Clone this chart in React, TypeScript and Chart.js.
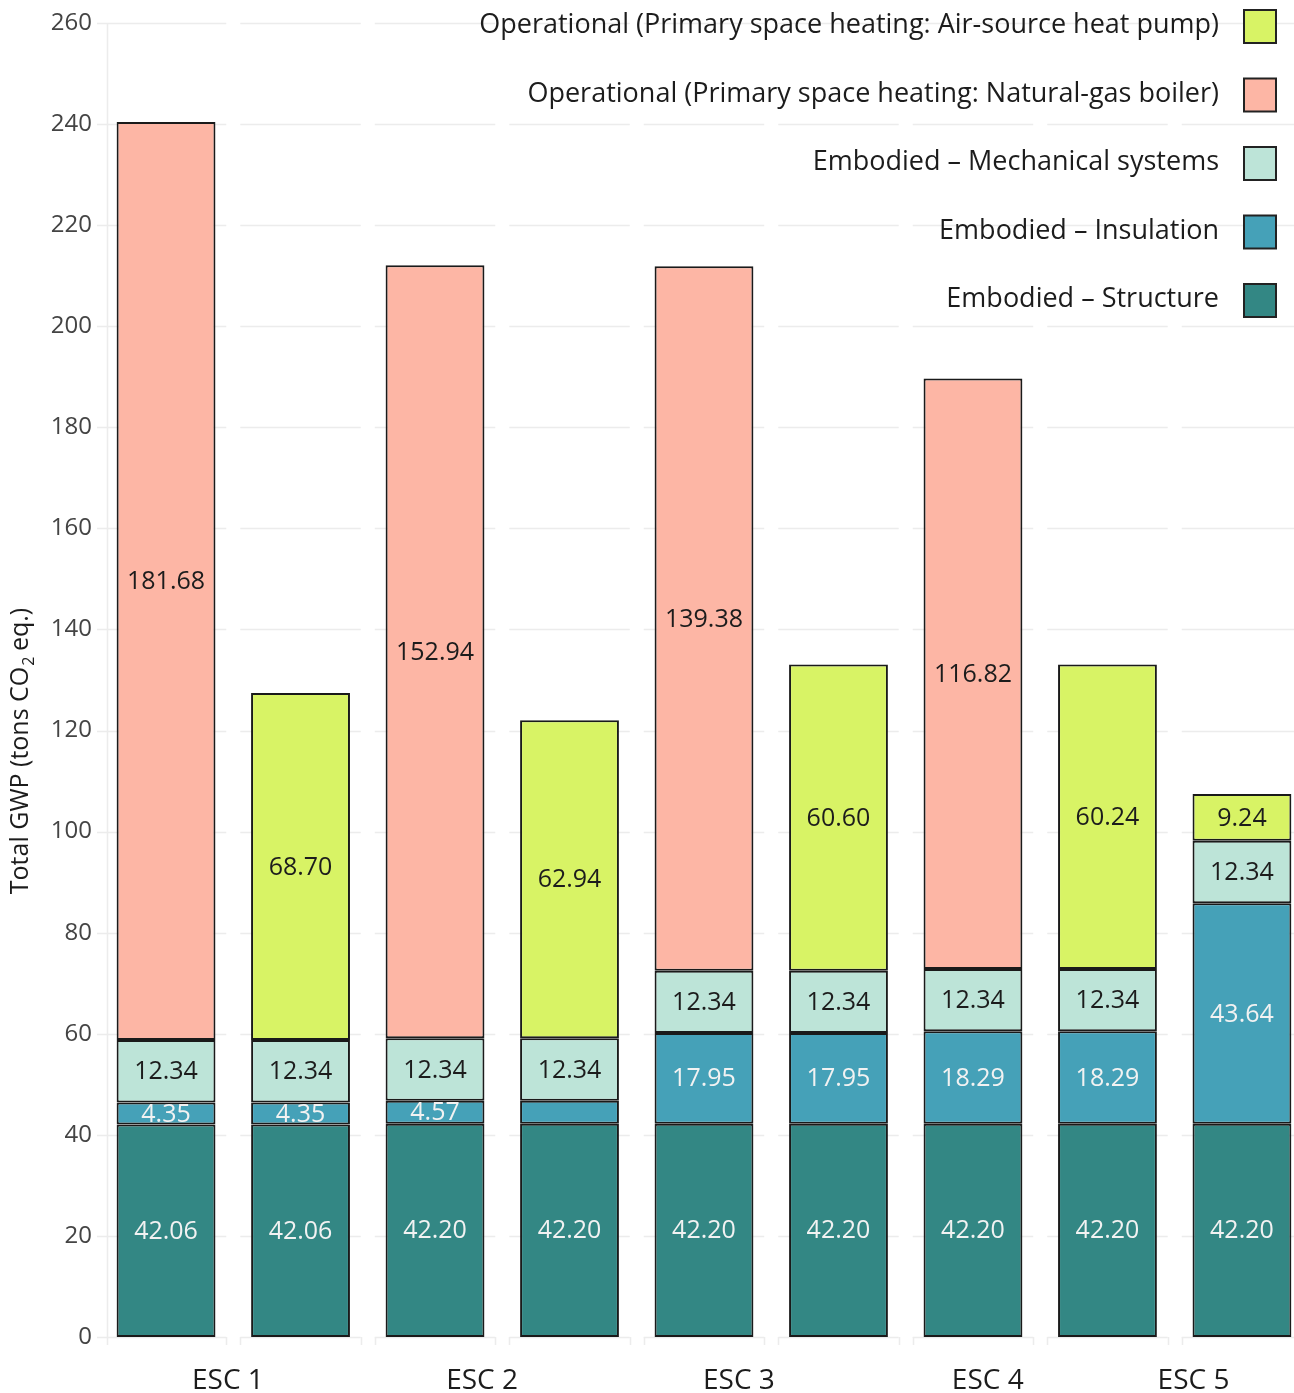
import React, { useEffect, useRef } from "react";
import { Chart, registerables } from "chart.js";

Chart.register(...registerables);

// Nine stacked bars: each scenario shown with gas boiler and with heat pump (ESC 5 heat pump only)
const BAR_POSITIONS = [1, 2, 3, 4, 5, 6, 7, 8, 9];
const SCENARIO_LABELS = ["ESC 1", "ESC 2", "ESC 3", "ESC 4", "ESC 5"];
const SCENARIO_TICKS = [1.46, 3.35, 5.26, 7.11, 8.64];

const structure = [42.06, 42.06, 42.2, 42.2, 42.2, 42.2, 42.2, 42.2, 42.2];
const insulation = [4.35, 4.35, 4.57, 4.57, 17.95, 17.95, 18.29, 18.29, 43.64];
const mechanical = [12.34, 12.34, 12.34, 12.34, 12.34, 12.34, 12.34, 12.34, 12.34];
const gasBoiler = [181.68, null, 152.94, null, 139.38, null, 116.82, null, null];
const heatPump = [null, 68.7, null, 62.94, null, 60.6, null, 60.24, 9.24];
const insulationLabelShown = [true, true, true, false, true, true, true, true, true];

const SERIES_NAMES = [
  "Embodied \u2013 Structure",
  "Embodied \u2013 Insulation",
  "Embodied \u2013 Mechanical systems",
  "Operational (Primary space heating: Natural-gas boiler)",
  "Operational (Primary space heating: Air-source heat pump)",
];
const SERIES_COLORS = ["#338784", "#45a1b8", "#bde4d8", "#fdb6a5", "#d8f365"];
const LABEL_COLORS = ["#f2f2f2", "#f2f2f2", "#1c1c1c", "#1c1c1c", "#1c1c1c"];

const Y_MIN = 0;
const Y_MAX = 260;
const Y_STEP = 20;

const FONT = '"Open Sans", "Noto Sans", sans-serif';

const toPoints = (values: (number | null)[]) =>
  values.map((v, i) => ({ x: BAR_POSITIONS[i], y: v }));

// Light horizontal grid broken between neighbouring bars, plus the faint axis line
const segmentedGrid = {
  id: "segmentedGrid",
  beforeDatasetsDraw(chart: any) {
    const { ctx, chartArea, scales } = chart;
    const x = scales.x;
    const y = scales.y;
    const gapHalf = 7;
    const gaps: number[] = [];
    for (let i = 1; i < BAR_POSITIONS.length; i++) {
      gaps.push(x.getPixelForValue((BAR_POSITIONS[i - 1] + BAR_POSITIONS[i]) / 2));
    }
    const starts = [chartArea.left - 10, ...gaps.map((g) => g + gapHalf)];
    const ends = [...gaps.map((g) => g - gapHalf), chartArea.right];
    ctx.save();
    ctx.strokeStyle = "#ececec";
    ctx.lineWidth = 1.5;
    y.ticks.forEach((t: any) => {
      const py = Math.round(y.getPixelForValue(t.value)) + 0.5;
      ctx.beginPath();
      starts.forEach((s, k) => {
        ctx.moveTo(s, py);
        ctx.lineTo(ends[k], py);
      });
      ctx.stroke();
    });
    ctx.beginPath();
    ctx.moveTo(chartArea.left + 0.5, chartArea.top);
    ctx.lineTo(chartArea.left + 0.5, chartArea.bottom + 8);
    const marks = [...gaps.map((g) => g - gapHalf), ...gaps.map((g) => g + gapHalf)];
    marks.forEach((m) => {
      ctx.moveTo(Math.round(m) + 0.5, chartArea.bottom);
      ctx.lineTo(Math.round(m) + 0.5, chartArea.bottom + 8);
    });
    ctx.stroke();
    ctx.restore();
  },
};

// Value written in the middle of every stacked segment
const segmentLabels = {
  id: "segmentLabels",
  afterDatasetsDraw(chart: any) {
    const { ctx } = chart;
    ctx.save();
    ctx.font = `25px ${FONT}`;
    ctx.textAlign = "center";
    ctx.textBaseline = "middle";
    chart.data.datasets.forEach((ds: any, di: number) => {
      const meta = chart.getDatasetMeta(di);
      meta.data.forEach((bar: any, i: number) => {
        const v = ds.data[i].y;
        if (v == null) return;
        if (di === 1 && !insulationLabelShown[i]) return;
        const p = bar.getProps(["x", "y", "base"], true);
        ctx.fillStyle = LABEL_COLORS[di];
        ctx.fillText(v.toFixed(2), p.x, (p.y + p.base) / 2 + 1);
      });
    });
    ctx.restore();
  },
};

// Rotated axis title with a subscript 2
const yTitle = {
  id: "yTitle",
  afterDraw(chart: any) {
    const { ctx } = chart;
    const main = `25px ${FONT}`;
    const sub = `16px ${FONT}`;
    const a = "Total GWP (tons CO";
    const b = "2";
    const c = " eq.)";
    ctx.save();
    ctx.fillStyle = "#1c1c1c";
    ctx.textBaseline = "middle";
    ctx.textAlign = "left";
    ctx.font = main;
    const wa = ctx.measureText(a).width;
    const wc = ctx.measureText(c).width;
    ctx.font = sub;
    const wb = ctx.measureText(b).width;
    const total = wa + wb + wc;
    ctx.translate(21, 751);
    ctx.rotate(-Math.PI / 2);
    let cx = -total / 2;
    ctx.font = main;
    ctx.fillText(a, cx, 0);
    cx += wa;
    ctx.font = sub;
    ctx.fillText(b, cx + 1, 8);
    cx += wb;
    ctx.font = main;
    ctx.fillText(c, cx, 0);
    ctx.restore();
  },
};

// Legend stacked top-right, text right-aligned beside its swatch
const rightLegend = {
  id: "rightLegend",
  afterDraw(chart: any) {
    const { ctx } = chart;
    const order = [4, 3, 2, 1, 0];
    const boxX = 1244;
    const boxW = 32;
    const boxH = 33;
    const top0 = 10;
    const step = 68.5;
    ctx.save();
    ctx.font = `27px ${FONT}`;
    ctx.textAlign = "right";
    ctx.textBaseline = "middle";
    order.forEach((di, k) => {
      const ds = chart.data.datasets[di];
      const top = top0 + k * step;
      ctx.fillStyle = ds.backgroundColor;
      ctx.fillRect(boxX, top, boxW, boxH);
      ctx.strokeStyle = "#222";
      ctx.lineWidth = 2;
      ctx.strokeRect(boxX, top, boxW, boxH);
      ctx.fillStyle = "#1c1c1c";
      ctx.fillText(ds.label, 1219, top + boxH / 2 - 1);
    });
    ctx.restore();
  },
};

export default function App() {
  const canvasRef = useRef<HTMLCanvasElement | null>(null);

  useEffect(() => {
    if (!canvasRef.current) return;
    const series = [structure, insulation, mechanical, gasBoiler, heatPump];
    const chart = new Chart(canvasRef.current, {
      type: "bar",
      data: {
        datasets: series.map((values, i) => ({
          label: SERIES_NAMES[i],
          data: toPoints(values),
          backgroundColor: SERIES_COLORS[i],
          borderColor: "#1a1a1a",
          borderWidth: 2,
          borderSkipped: false,
          categoryPercentage: 1,
          barPercentage: 0.735,
        })),
      },
      options: {
        animation: false,
        responsive: true,
        maintainAspectRatio: false,
        layout: { padding: { top: 23, right: 0, left: 0, bottom: 0 } },
        plugins: {
          legend: { display: false },
          tooltip: { enabled: false },
        },
        scales: {
          x: {
            type: "linear",
            stacked: true,
            offset: false,
            min: 0.561,
            max: 9.387,
            grid: { display: false, drawTicks: false, offset: false },
            border: { display: false },
            afterBuildTicks: (axis: any) => {
              axis.ticks = SCENARIO_TICKS.map((v) => ({ value: v }));
            },
            afterFit: (axis: any) => {
              axis.height = 56;
              axis.paddingLeft = 0;
              axis.paddingRight = 0;
            },
            ticks: {
              autoSkip: false,
              maxRotation: 0,
              padding: 27,
              color: "#1c1c1c",
              font: { family: FONT, size: 28 },
              callback: (_v: any, index: number) => SCENARIO_LABELS[index],
            },
          },
          y: {
            stacked: true,
            min: Y_MIN,
            max: Y_MAX,
            grid: { display: false, drawTicks: false },
            border: { display: false },
            afterFit: (axis: any) => {
              axis.width = 107;
              axis.paddingTop = 0;
              axis.paddingBottom = 0;
            },
            ticks: {
              stepSize: Y_STEP,
              padding: 15,
              color: "#444",
              font: { family: FONT, size: 24 },
            },
          },
        },
      },
      plugins: [segmentedGrid, segmentLabels, yTitle, rightLegend],
    } as any);
    return () => chart.destroy();
  }, []);

  return (
    <div style={{ position: "absolute", left: 0, top: 0, width: 1294, height: 1393, background: "#fff" }}>
      <canvas ref={canvasRef} />
    </div>
  );
}
